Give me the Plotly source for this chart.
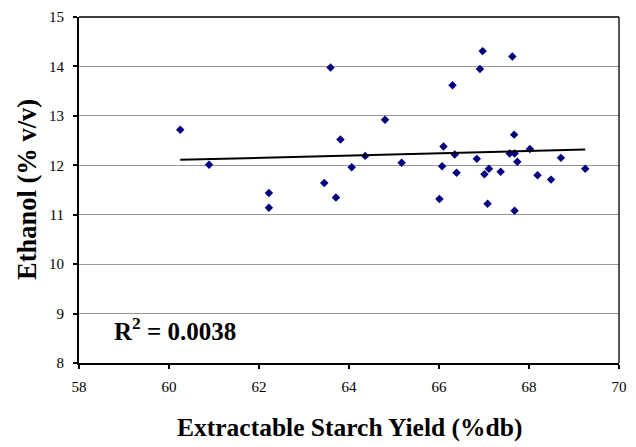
import plotly.graph_objects as go

# Scatter data
starch_yield = [60.25, 60.89, 62.22, 62.22, 63.45, 63.59, 63.71, 63.81, 64.06, 64.36,
                64.80, 65.17, 66.01, 66.07, 66.10, 66.30, 66.35, 66.39, 66.84, 66.91,
                66.97, 67.01, 67.08, 67.11, 67.37, 67.57, 67.63, 67.67, 67.68, 67.68,
                67.74, 68.02, 68.19, 68.49, 68.71, 69.25]
ethanol = [12.72, 12.01, 11.44, 11.14, 11.64, 13.98, 11.35, 12.52, 11.96, 12.19,
           12.92, 12.05, 11.32, 11.98, 12.38, 13.62, 12.22, 11.85, 12.13, 13.95,
           14.31, 11.82, 11.22, 11.93, 11.87, 12.24, 14.20, 12.62, 12.24, 11.08,
           12.07, 12.33, 11.80, 11.71, 12.15, 11.93]

# Linear trendline end points
trend_x = [60.25, 69.25]
trend_y = [12.11, 12.32]
r2_label = "R<sup>2</sup> = 0.0038"

x_ticks = [58, 60, 62, 64, 66, 68, 70]
y_ticks = [8, 9, 10, 11, 12, 13, 14, 15]

FONT = "Liberation Serif"

fig = go.Figure()
fig.add_trace(go.Scatter(
    x=starch_yield, y=ethanol, mode="markers",
    marker=dict(symbol="diamond", size=6.5, color="#000080", line=dict(width=0)),
    showlegend=False, hoverinfo="skip"))
fig.add_trace(go.Scatter(
    x=trend_x, y=trend_y, mode="lines",
    line=dict(color="black", width=2),
    showlegend=False, hoverinfo="skip"))

fig.update_layout(
    width=636, height=447,
    margin=dict(l=79, r=9, t=13, b=84, pad=0),
    paper_bgcolor="white", plot_bgcolor="white",
    font=dict(family=FONT, color="black"),
    xaxis=dict(range=[58, 70], tickvals=x_ticks, showgrid=False, zeroline=False,
               showline=True, linecolor="black", linewidth=2,
               ticks="outside", ticklen=4, tickwidth=2, tickcolor="black",
               tickfont=dict(family=FONT, size=15, color="black"),
               ticklabelstandoff=5),
    yaxis=dict(range=[8, 15], tickvals=y_ticks, showgrid=True, gridcolor="#969696",
               gridwidth=1.3, zeroline=False,
               showline=True, linecolor="black", linewidth=2,
               ticks="outside", ticklen=4, tickwidth=2, tickcolor="black",
               tickfont=dict(family=FONT, size=15, color="black"),
               ticklabelstandoff=6),
    shapes=[
        dict(type="line", xref="paper", yref="paper", x0=0, x1=1, y0=1, y1=1,
             line=dict(color="black", width=1.3)),
        dict(type="line", xref="paper", yref="paper", x0=1, x1=1, y0=0, y1=1,
             line=dict(color="black", width=1.3)),
    ],
    annotations=[
        dict(text="<b>Extractable Starch Yield (%db)</b>", xref="paper", yref="paper",
             x=0.5, y=0, xanchor="center", yanchor="middle", yshift=-64,
             showarrow=False, font=dict(family=FONT, size=25.5, color="black")),
        dict(text="<b>Ethanol (% v/v)</b>", xref="paper", yref="paper",
             x=0, y=0.5, xanchor="center", yanchor="middle", xshift=-52,
             textangle=-90, showarrow=False,
             font=dict(family=FONT, size=26.5, color="black")),
        dict(text="<b>" + r2_label + "</b>", xref="paper", yref="paper",
             x=0, y=0, xanchor="left", yanchor="middle", xshift=33, yshift=34,
             showarrow=False, font=dict(family=FONT, size=25, color="black")),
    ],
)

fig.write_html("out.html")
